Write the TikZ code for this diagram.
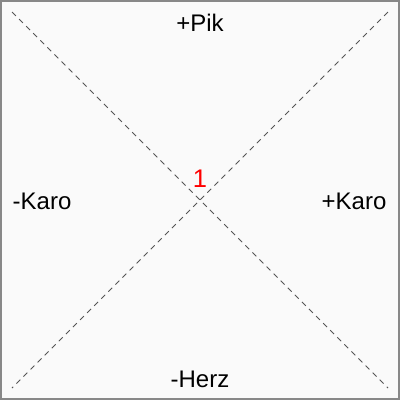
\documentclass[tikz,border=0pt]{standalone}
\usepackage{fontspec}
\setmainfont{Liberation Sans}
\definecolor{bgc}{RGB}{250,250,250}
\definecolor{framec}{RGB}{136,136,136}
\definecolor{dashc}{RGB}{85,85,85}
\tikzset{
  lbl/.style={font=\fontsize{24bp}{28bp}\selectfont, text=black, inner sep=0pt, anchor=base},
  diag/.style={draw=dashc, line width=0.8bp, dash pattern=on 5.5bp off 4.5bp}
}
\begin{document}
\begin{tikzpicture}[x=1bp,y=-1bp]
\useasboundingbox (0,0) rectangle (400,400);
\fill[bgc] (0,0) rectangle (400,400);
\draw[framec, line width=2bp] (1,1) rectangle (398.5,398.5);
\coordinate (tl) at (12,12);
\coordinate (br) at (388,388);
\coordinate (tr) at (388,12);
\coordinate (bl) at (12,388);
\draw[diag] (tl) -- (br);
\draw[diag] (tr) -- (bl);
\node[lbl] (pik) at (200,31) {+Pik};
\node[lbl] (herz) at (200,387) {-Herz};
\node[lbl, anchor=base west] (mkaro) at (12.5,209) {-Karo};
\node[lbl] (pkaro) at (354,209) {+Karo};
\node[lbl, text=red, font=\fontsize{25.5bp}{28bp}\selectfont] (one) at (200,187) {1};
\end{tikzpicture}
\end{document}
